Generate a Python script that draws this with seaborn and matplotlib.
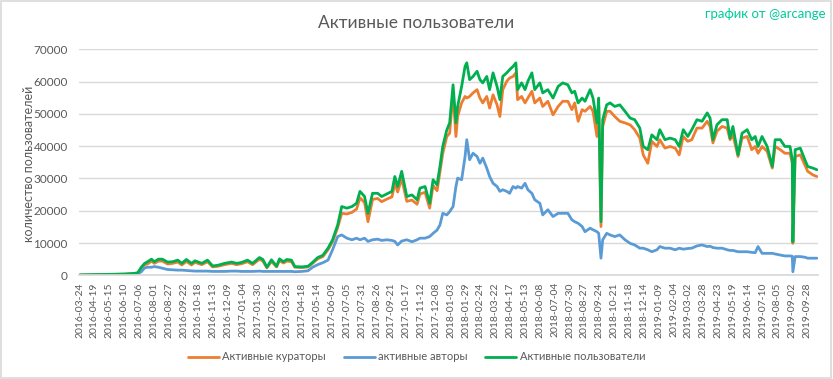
import matplotlib
matplotlib.use("Agg")
import numpy as np
import pandas as pd
import matplotlib.pyplot as plt
from matplotlib.lines import Line2D
import seaborn as sns

# day index on the category axis (0 = 2016-03-24)
day = [0, 26, 53, 79, 96, 102, 108, 114, 119, 126, 131, 138, 145, 154, 163, 172, 179, 187, 196, 202,
       214, 224, 233, 242, 254, 266, 275, 284, 294, 303, 315, 321, 328, 336, 345, 350, 357, 363, 371, 377,
       389, 400, 408, 417, 426, 435, 443, 452, 459, 468, 477, 485, 491, 499, 505, 513, 522, 529, 538, 547,
       552, 557, 564, 573, 582, 591, 596, 605, 613, 619, 626, 631, 636, 643, 648, 654, 659, 662, 669, 675,
       678, 683, 689, 696, 701, 706, 713, 718, 724, 731, 736, 741, 748, 753, 759, 764, 767, 774, 780, 785,
       792, 797, 806, 811, 820, 829, 838, 846, 855, 862, 867, 873, 880, 885, 894, 899, 906, 909, 913, 916,
       923, 929, 937, 946, 955, 964, 972, 981, 987, 995, 1002, 1011, 1016, 1025, 1034, 1043, 1050, 1057, 1065, 1072,
       1081, 1090, 1099, 1104, 1109, 1116, 1125, 1134, 1139, 1144, 1153, 1160, 1169, 1177, 1183, 1188, 1195, 1204, 1213, 1218,
       1227, 1235, 1244, 1248, 1249, 1253, 1262, 1270, 1275, 1284, 1291]

users = [100, 200, 300, 400, 600, 800, 2500, 3700, 4200, 5000, 4200, 5000, 5000, 4100, 4200, 4700, 3700, 4900, 3700, 4500,
         3700, 4700, 2900, 3100, 3700, 4100, 3700, 4000, 4700, 3700, 5500, 4900, 2500, 4800, 2800, 5100, 4200, 4900, 4700, 2700,
         2600, 2800, 4000, 5500, 6200, 8400, 11000, 15600, 21300, 20800, 21300, 22300, 26000, 24400, 19200, 25400, 25400, 24400, 25200, 26000,
         30600, 27500, 32200, 24400, 24900, 23400, 27000, 27500, 22300, 29600, 28000, 33700, 40000, 45000, 47200, 59000, 47200, 52300, 58500, 64700,
         65800, 60600, 61600, 63200, 60600, 59600, 61600, 57500, 62700, 58500, 54400, 61600, 62700, 63700, 64700, 65800, 57500, 59600, 57500, 60100,
         62700, 57500, 59600, 56500, 57500, 54900, 58500, 59600, 59000, 56500, 57000, 53400, 54900, 53900, 57500, 54900, 47200, 54900, 16600, 48200,
         52800, 53400, 52300, 52800, 50800, 48700, 48200, 45600, 39900, 38900, 43500, 42000, 45100, 42000, 42500, 42000, 39900, 45100, 43000, 45100,
         48200, 47700, 50300, 48700, 42000, 46600, 48200, 48200, 42500, 46100, 37300, 44000, 45100, 42000, 43000, 39900, 43000, 39900, 33700, 42000,
         42000, 39900, 39900, 35800, 10400, 38900, 39400, 35800, 33700, 33200, 32700]

curators = [80, 150, 250, 350, 500, 700, 2200, 3300, 3500, 4400, 3700, 4400, 4400, 3500, 3700, 4100, 3200, 4300, 3200, 4000,
            3300, 4200, 2600, 2800, 3300, 3700, 3300, 3600, 4200, 3300, 5000, 4400, 2300, 4300, 2600, 4600, 3800, 4400, 4200, 2500,
            2400, 2600, 3700, 5100, 5800, 7900, 10400, 14800, 19200, 19000, 19500, 20500, 24000, 22500, 16600, 23500, 23800, 22800, 23600, 24300,
            28500, 25800, 30000, 22900, 23300, 22000, 25200, 25700, 20800, 27800, 26200, 32000, 37800, 43000, 44000, 56500, 43000, 49200, 53400, 55400,
            54900, 55400, 56500, 57500, 54900, 53400, 55400, 51800, 55900, 52800, 49200, 57500, 60100, 61100, 61600, 62700, 54400, 55400, 53400, 54900,
            57000, 53400, 54900, 52300, 53900, 49700, 52300, 53900, 53900, 51300, 53400, 47700, 51300, 50800, 52300, 50800, 43000, 52300, 15100, 46100,
            50800, 50800, 49200, 47700, 47200, 46600, 45100, 42500, 37300, 34700, 41500, 39900, 42000, 39400, 39900, 39400, 37300, 43000, 41500, 42000,
            45600, 45600, 47700, 46100, 41000, 44600, 46100, 45600, 42000, 43500, 36800, 42500, 43000, 38900, 39900, 37800, 39900, 38400, 33200, 39900,
            38900, 37800, 37800, 34700, 9900, 36800, 37300, 34200, 32200, 31100, 30600]

authors = [50, 100, 150, 200, 300, 400, 1100, 2300, 2500, 2500, 2700, 2500, 2200, 1800, 1700, 1600, 1600, 1500, 1400, 1300,
           1300, 1300, 1200, 1200, 1200, 1300, 1300, 1200, 1200, 1200, 1300, 1200, 1200, 1200, 1200, 1200, 1200, 1200, 1200, 1100,
           1200, 1400, 2500, 3300, 3900, 4700, 7900, 12000, 12500, 11500, 11000, 11500, 11000, 11500, 10500, 11000, 11200, 10800, 11000, 10800,
           10500, 9400, 10600, 11000, 10400, 11000, 11500, 11500, 12000, 13000, 14000, 15600, 19200, 18700, 19700, 21300, 27500, 30100, 29600, 36800,
           42000, 35800, 37800, 36800, 34700, 36300, 33200, 30600, 28500, 27500, 26000, 26500, 26000, 25400, 27500, 27000, 27500, 27000, 28500, 26500,
           25400, 23400, 22300, 18700, 20300, 18200, 19200, 19200, 19200, 17200, 16600, 16100, 15100, 13500, 14600, 14100, 13500, 13000, 5300, 11000,
           13000, 12500, 12000, 12500, 11000, 9900, 9400, 8400, 8400, 7900, 7300, 7900, 8900, 8400, 8400, 7900, 8400, 8100, 8300, 8400,
           9100, 9400, 8900, 9000, 8600, 8400, 8400, 7900, 7700, 7700, 7300, 7300, 7300, 7100, 7000, 8900, 6800, 6800, 6800, 6600,
           6300, 6000, 6000, 5900, 1100, 5800, 5800, 5600, 5300, 5300, 5300]

tick_labels = ["2016-03-24", "2016-04-19", "2016-05-15", "2016-06-10", "2016-07-06", "2016-08-01", "2016-08-27",
               "2016-09-22", "2016-10-18", "2016-11-13", "2016-12-09", "2017-01-04", "2017-01-30", "2017-02-25",
               "2017-03-23", "2017-04-18", "2017-05-14", "2017-06-09", "2017-07-05", "2017-07-31", "2017-08-26",
               "2017-09-21", "2017-10-17", "2017-11-12", "2017-12-08", "2018-01-03", "2018-01-29", "2018-02-24",
               "2018-03-22", "2018-04-17", "2018-05-13", "2018-06-08", "2018-07-04", "2018-07-30", "2018-08-27",
               "2018-09-24", "2018-10-21", "2018-11-18", "2018-12-14", "2019-01-09", "2019-02-04", "2019-03-02",
               "2019-03-28", "2019-04-23", "2019-05-19", "2019-06-14", "2019-07-10", "2019-08-05", "2019-09-02",
               "2019-09-28"]

names = ["Активные кураторы", "активные авторы", "Активные пользователи"]
colors = ["#ED7D31", "#5B9BD5", "#00B050"]

df = pd.concat([
    pd.DataFrame({"day": day, "value": curators, "series": names[0]}),
    pd.DataFrame({"day": day, "value": authors, "series": names[1]}),
    pd.DataFrame({"day": day, "value": users, "series": names[2]}),
])

sns.set_theme(style="white")
plt.rcParams["font.family"] = ["Lato", "DejaVu Sans"]
grey = "#595959"

fig = plt.figure(figsize=(8.33, 3.79), dpi=100)
ax = fig.add_axes([79 / 833, 1 - 275.3 / 379, (818 - 79) / 833, (275.3 - 49.3) / 379])

sns.lineplot(data=df, x="day", y="value", hue="series", hue_order=names,
             palette=colors, linewidth=2.0, estimator=None, legend=False, ax=ax)

ax.set_xlim(-1, 1293)
ax.set_ylim(0, 70000)
ax.set_yticks(range(0, 70001, 10000))
ax.set_yticklabels([str(v) for v in range(0, 70001, 10000)], fontsize=8.5, color=grey)
ax.set_xticks(np.arange(len(tick_labels)) * 26)
ax.set_xticklabels(tick_labels, rotation=90, fontsize=7.5, color=grey)
ax.tick_params(length=0, pad=5)
ax.tick_params(axis="y", pad=8)
ax.yaxis.grid(True, color="#d9d9d9", linewidth=1)
ax.set_axisbelow(True)
for s in ["top", "right", "left"]:
    ax.spines[s].set_visible(False)
ax.spines["bottom"].set_color("#d9d9d9")
ax.set_xlabel("")
ax.set_ylabel("")

fig.text(29 / 833, 1 - 164 / 379, "количество пользователей", rotation=90,
         ha="center", va="center", fontsize=9, color=grey)
fig.text(416 / 833, 1 - 23 / 379, "Активные пользователи", ha="center", va="center",
         fontsize=12.5, color=grey)
fig.text(826 / 833, 1 - 14 / 379, "график от @arcange", ha="right", va="center",
         fontsize=9.5, color="#00cc99")

handles = [Line2D([], [], color=c, linewidth=2.0) for c in colors]
fig.legend(handles, names, loc="center", bbox_to_anchor=(0.5, 1 - 357 / 379), ncol=3,
           frameon=False, fontsize=8, labelcolor=grey, handlelength=2.8,
           handletextpad=0.3, columnspacing=1.6)

fig.patches.append(plt.Rectangle((0.001, 0.002), 0.997, 0.995, transform=fig.transFigure,
                                 fill=False, edgecolor="#d9d9d9", linewidth=1.2))

fig.savefig("out.png", dpi=100)
